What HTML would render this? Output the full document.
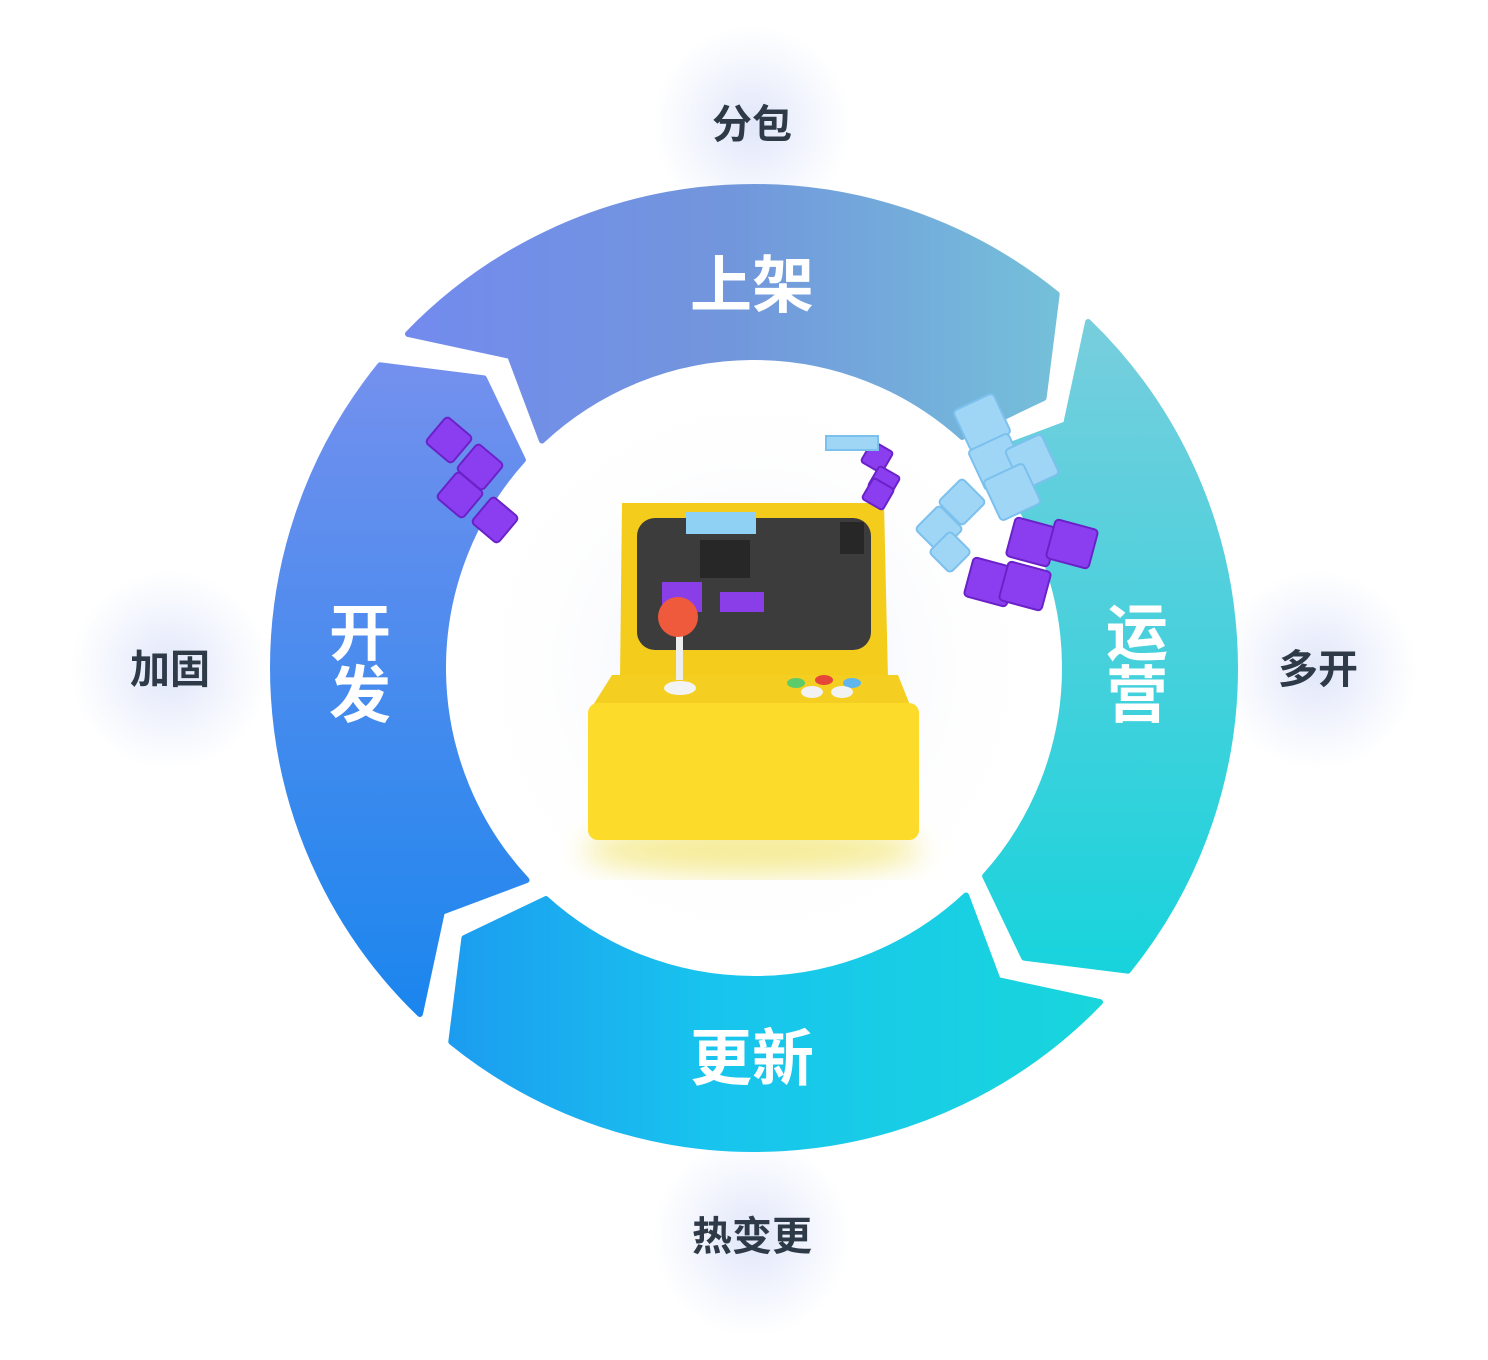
<!DOCTYPE html>
<html><head><meta charset="utf-8"><style>
html,body{margin:0;padding:0;background:#fff;}
body{width:1488px;height:1360px;position:relative;overflow:hidden;font-family:"Liberation Sans","Noto Sans CJK SC",sans-serif;}
.glow{position:absolute;width:200px;height:200px;border-radius:50%;background:radial-gradient(circle,rgba(200,210,245,0.55) 0%,rgba(220,228,250,0.3) 45%,rgba(255,255,255,0) 70%);}
.ol{position:absolute;font-size:40px;font-weight:bold;color:#2e3a48;text-align:center;width:240px;line-height:40px;}
.wl{position:absolute;font-size:62px;font-weight:bold;color:#fff;text-align:center;line-height:62px;}
</style></head><body>
<div class="glow" style="left:652px;top:25px"></div>
<div class="glow" style="left:70px;top:570px"></div>
<div class="glow" style="left:1218px;top:570px"></div>
<div class="glow" style="left:652px;top:1137px"></div>
<svg id="s" width="1488" height="1360" style="position:absolute;left:0;top:0">
<defs>
<linearGradient id="gT" gradientUnits="userSpaceOnUse" x1="400" y1="300" x2="1060" y2="300"><stop offset="0" stop-color="#728aee"/><stop offset="0.5" stop-color="#7296dc"/><stop offset="1" stop-color="#74c0da"/></linearGradient>
<linearGradient id="gR" gradientUnits="userSpaceOnUse" x1="0" y1="320" x2="0" y2="970"><stop offset="0" stop-color="#78cedd"/><stop offset="1" stop-color="#18d3dc"/></linearGradient>
<linearGradient id="gB" gradientUnits="userSpaceOnUse" x1="450" y1="0" x2="1100" y2="0"><stop offset="0" stop-color="#1c9cf0"/><stop offset="0.4" stop-color="#18c4ee"/><stop offset="1" stop-color="#18d6dc"/></linearGradient>
<linearGradient id="gL" gradientUnits="userSpaceOnUse" x1="0" y1="365" x2="0" y2="1015"><stop offset="0" stop-color="#7490ee"/><stop offset="1" stop-color="#1a86ee"/></linearGradient>
<radialGradient id="cg"><stop offset="0" stop-color="#eef0fb"/><stop offset="1" stop-color="#fff" stop-opacity="0"/></radialGradient>
<filter id="bl"><feGaussianBlur stdDeviation="14"/></filter>
</defs>
<circle cx="754" cy="668" r="300" fill="url(#cg)"/>
<g id="ring"></g>
<ellipse cx="752" cy="850" rx="170" ry="25" fill="#f6ec9a" filter="url(#bl)"/>
<path d="M622,503 L884,503 L888,680 L620,680 Z" fill="#f3cc1c"/>
<rect x="637" y="518" width="234" height="132" rx="18" fill="#3c3c3c"/>
<rect x="686" y="512" width="70" height="22" fill="#8fd0f5"/>
<rect x="700" y="540" width="50" height="38" fill="#222" opacity="0.8"/>
<rect x="840" y="522" width="24" height="32" fill="#222" opacity="0.8"/>
<rect x="662" y="582" width="40" height="30" fill="#8a3ee8"/>
<rect x="720" y="592" width="44" height="20" fill="#8a3ee8"/>
<path d="M612,675 L898,675 L912,710 L590,710 Z" fill="#f4cf22"/>
<rect x="588" y="703" width="331" height="137" rx="10" fill="#fcdb2a"/>
<rect x="676" y="625" width="7" height="55" fill="#eee"/>
<ellipse cx="680" cy="688" rx="16" ry="7" fill="#f3f3f3"/>
<circle cx="678" cy="617" r="20" fill="#ef5a3c"/>
<ellipse cx="796" cy="683" rx="9" ry="5" fill="#5ecb6a"/>
<ellipse cx="824" cy="680" rx="9" ry="5" fill="#e6453a"/>
<ellipse cx="852" cy="683" rx="9" ry="5" fill="#5fb6ee"/>
<ellipse cx="812" cy="692" rx="11" ry="6" fill="#f2f2f2"/>
<ellipse cx="842" cy="692" rx="11" ry="6" fill="#f2f2f2"/>
<g fill="#8b3ef0" stroke="#6a22c8" stroke-width="2">
<rect x="432" y="423" width="34" height="34" rx="4" transform="rotate(40 449 440)"/>
<rect x="463" y="450" width="34" height="34" rx="4" transform="rotate(40 480 467)"/>
<rect x="443" y="478" width="34" height="34" rx="4" transform="rotate(40 460 495)"/>
<rect x="478" y="503" width="34" height="34" rx="4" transform="rotate(40 495 520)"/>
<rect x="865" y="445" width="24" height="24" rx="3" transform="rotate(30 877 457)"/>
<rect x="872" y="470" width="24" height="24" rx="3" transform="rotate(30 884 482)"/>
<rect x="866" y="482" width="24" height="24" rx="3" transform="rotate(30 878 494)"/>
<rect x="1010" y="522" width="44" height="40" rx="4" transform="rotate(15 1032 542)"/>
<rect x="1050" y="524" width="44" height="40" rx="4" transform="rotate(15 1072 544)"/>
<rect x="968" y="562" width="44" height="40" rx="4" transform="rotate(15 990 582)"/>
<rect x="1003" y="566" width="44" height="40" rx="4" transform="rotate(15 1025 586)"/>
</g>
<g fill="#9fd6f6" stroke="#7cc0ee" stroke-width="2">
<rect x="826" y="436" width="52" height="14"/>
<rect x="960" y="400" width="44" height="44" rx="4" transform="rotate(-25 982 422)"/>
<rect x="975" y="440" width="44" height="44" rx="4" transform="rotate(-25 997 462)"/>
<rect x="1012" y="440" width="40" height="44" rx="4" transform="rotate(-25 1032 462)"/>
<rect x="990" y="470" width="44" height="44" rx="4" transform="rotate(-25 1012 492)"/>
<rect x="945" y="485" width="34" height="34" rx="4" transform="rotate(45 962 502)"/>
<rect x="922" y="512" width="34" height="34" rx="4" transform="rotate(45 939 529)"/>
<rect x="935" y="537" width="30" height="30" rx="4" transform="rotate(45 950 552)"/>
</g>
</svg>
<div class="ol" style="left:632px;top:105px">分包</div>
<div class="ol" style="left:50px;top:650px">加固</div>
<div class="ol" style="left:1198px;top:650px">多开</div>
<div class="ol" style="left:632px;top:1217px">热变更</div>
<div class="wl" style="left:652px;top:256px;width:200px">上架</div>
<div class="wl" style="left:652px;top:1029px;width:200px">更新</div>
<div class="wl" style="left:329px;top:604px;width:62px">开<br>发</div>
<div class="wl" style="left:1106px;top:604px;width:62px">运<br>营</div>
<script>
(function(){
var cx=754,cy=668,RO=481,RI=311,RK=396;
function p(r,a){a=a*Math.PI/180;return (cx+r*Math.cos(a)).toFixed(1)+","+(cy-r*Math.sin(a)).toFixed(1);}
function seg(gs,ge,fill){
 var s=gs-2.5,e=ge+2.5;
 var d="M"+p(RO,s+4)+" A"+RO+","+RO+" 0 0 1 "+p(RO,e+4)+" L"+p(RK,e-4)+" L"+p(RI,e+1)+
 " A"+RI+","+RI+" 0 0 0 "+p(RI,s+1)+" L"+p(RK,s-4)+" Z";
 return '<path d="'+d+'" fill="'+fill+'" stroke="'+fill+'" stroke-width="6" stroke-linejoin="round"/>';
}
var h=seg(224.5,134.5,"url(#gL)")+seg(134.5,44.5,"url(#gT)")+seg(44.5,-45.5,"url(#gR)")+seg(-45.5,-135.5,"url(#gB)");
document.getElementById("ring").innerHTML=h;
})();
</script>
</body></html>
